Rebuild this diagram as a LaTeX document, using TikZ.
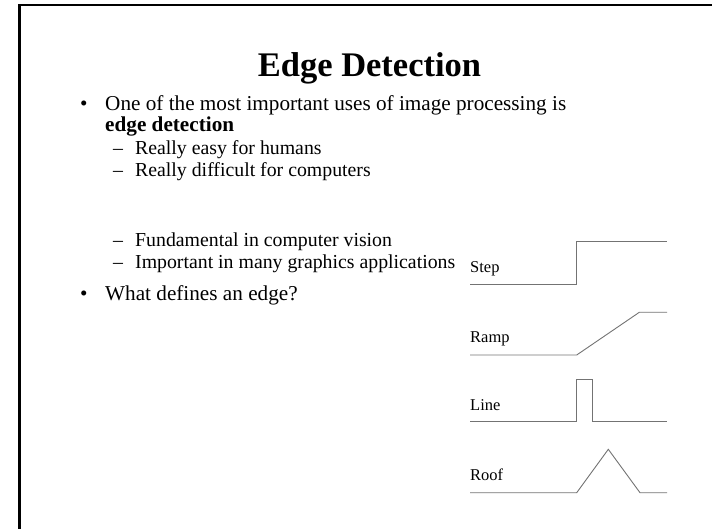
\documentclass[tikz,border=0pt]{standalone}
\usepackage{fontspec}
\setmainfont{Liberation Serif}
\usetikzlibrary{positioning}

\begin{document}
\begin{tikzpicture}[x=1pt,y=-1pt,
		declare function = {
				xa = 470;
				xr = 576.7;
				xe = 667;
			},
		txt/.style={anchor=base west, inner sep=0pt},
		body/.style={txt, font=\fontsize{21.2}{25}\selectfont},
		sub/.style={txt, font=\fontsize{19.8}{23}\selectfont},
		lbl/.style={txt, font=\fontsize{16.5}{20}\selectfont},
		wave/.style={black!55, line width=0.9pt},
	]
	\useasboundingbox (0,0) rectangle (712,529);
	\draw[line width=2.3pt] (19.5,529) |- (712,5);
	% title
	\node[anchor=base, inner sep=0pt, font=\fontsize{34.5}{40}\selectfont\bfseries] (title) at (369.5,77) {Edge Detection};
	% bullets
	\node[body] (b1) at (80,110.5) {\textbullet};
	\node[body] (t1) at (105,110.5) {One of the most important uses of image processing is};
	\node[body, font=\fontsize{21.2}{25}\selectfont\bfseries] (t1b) at (105,132) {edge detection};
	\node[sub] (d1) at (113,155) {–};
	\node[sub] (s1) at (135,155) {Really easy for humans};
	\node[sub] (d2) at (113,177) {–};
	\node[sub] (s2) at (135,177) {Really difficult for computers};
	\node[sub] (d3) at (113,247) {–};
	\node[sub] (s3) at (135,247) {Fundamental in computer vision};
	\node[sub] (d4) at (113,269) {–};
	\node[sub] (s4) at (135,269) {Important in many graphics applications};
	\node[body] (b2) at (80,300.5) {\textbullet};
	\node[body] (t2) at (105,300.5) {What defines an edge?};
	% edge profiles
	\node[lbl] (step) at (xa,273) {Step};
	\draw[wave] (xa,284) -- (xr,284) -- (xr,241.3) -- (xe,241.3);
	\node[lbl] (ramp) at (xa,342.5) {Ramp};
	\draw[wave] (xa,355) -- (xr,355) -- (639.3,312.3) -- (xe,312.3);
	\node[lbl] (line) at (xa,410.5) {Line};
	\draw[wave] (xa,421.7) -- (xr,421.7) -- (xr,379) -- (592.3,379) -- (592.3,421.7) -- (xe,421.7);
	\node[lbl] (roof) at (xa,480.5) {Roof};
	\draw[wave] (xa,492.7) -- (xr,492.7) -- (608.3,449.3) -- (640,492.7) -- (xe,492.7);
\end{tikzpicture}
\end{document}
